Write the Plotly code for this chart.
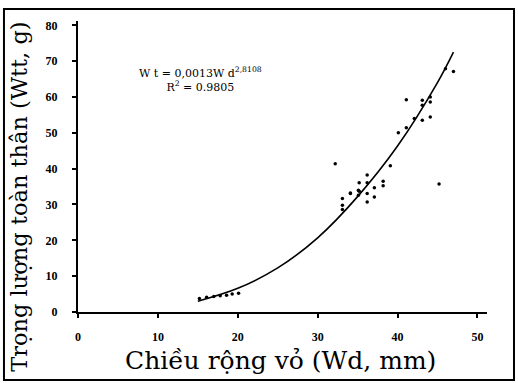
import plotly.graph_objects as go

# Observed data (shell width Wd, mm ; total weight Wtt, g)
wd = [15.2, 16.1, 17.0, 17.8, 18.6, 19.3, 20.1,
      32.2, 33.1, 33.1, 33.1, 34.1, 34.1, 35.1, 35.1, 35.2, 35.2, 36.2, 36.2, 36.2, 36.2,
      37.1, 37.1, 38.2, 38.2, 39.1, 40.1, 41.1, 41.1, 42.1, 43.1, 43.1, 43.1, 44.1, 44.1,
      44.1, 45.2, 46.0, 47.0]
wt = [3.8, 4.1, 4.3, 4.5, 4.7, 5.0, 5.2,
      41.4, 31.7, 29.8, 28.6, 33.2, 33.1, 34.0, 32.6, 36.1, 33.7, 38.2, 36.1, 33.1, 30.7,
      34.7, 32.1, 36.5, 35.2, 40.8, 50.0, 51.4, 59.2, 54.0, 59.1, 57.7, 53.5, 60.0, 58.6,
      54.4, 35.7, 67.9, 67.1]

# Power-law trend line as drawn on the chart
trend_x = [15, 20, 25, 30, 35, 40, 45, 47]
trend_y = [3.0, 6.6, 12.3, 20.7, 32.2, 46.3, 64.0, 72.5]

x_ticks = [0, 10, 20, 30, 40, 50]
y_ticks = [0, 10, 20, 30, 40, 50, 60, 70, 80]

x_title = "Chiều rộng vỏ (Wd, mm)"
y_title = "Trọng lượng toàn thân (Wtt, g)"

serif = "Liberation Serif"
title_font = "DejaVu Serif"

fig = go.Figure()
fig.add_trace(go.Scatter(x=trend_x, y=trend_y, mode="lines",
                         line=dict(color="black", width=1.6, shape="spline"),
                         showlegend=False))
fig.add_trace(go.Scatter(x=wd, y=wt, mode="markers",
                         marker=dict(color="black", size=3.5), showlegend=False))

fig.add_annotation(x=15.3, y=64.9, xref="x", yref="y", showarrow=False,
                   text="W t = 0,0013W d<sup>2,8108</sup><br>R<sup>2</sup> = 0.9805",
                   font=dict(family=title_font, size=11, color="black"), align="center")

# axis titles placed as annotations
fig.add_annotation(x=0.494, y=-0.168, xref="paper", yref="paper", showarrow=False,
                   text=x_title, xanchor="center", yanchor="middle",
                   font=dict(family=title_font, size=25, color="black"))
fig.add_annotation(x=-0.145, y=0.395, xref="paper", yref="paper", showarrow=False,
                   text=y_title, textangle=-90, xanchor="center", yanchor="middle",
                   font=dict(family=title_font, size=22.5, color="black"))

# outer frame
fig.add_shape(type="rect", xref="paper", yref="paper",
              x0=-0.181, x1=1.066, y0=-0.234, y1=1.041,
              line=dict(color="black", width=2))

fig.update_layout(
    width=518, height=383,
    margin=dict(l=78, r=31, t=21, b=71),
    plot_bgcolor="white", paper_bgcolor="white",
    font=dict(family=serif, color="black"),
    xaxis=dict(range=[0, 51.2], tickvals=x_ticks, ticks="outside", ticklen=4,
               tickwidth=1.5, tickcolor="black", showline=True, linecolor="black",
               linewidth=2, showgrid=False, zeroline=False, ticklabelstandoff=9,
               tickfont=dict(family=serif, size=12, color="black", weight="bold")),
    yaxis=dict(range=[0, 81.2], tickvals=y_ticks, ticks="outside", ticklen=4,
               tickwidth=1.5, tickcolor="black", showline=True, linecolor="black",
               linewidth=2, showgrid=False, zeroline=False, ticklabelstandoff=12,
               tickfont=dict(family=serif, size=12, color="black", weight="bold")),
)

fig.write_html("out.html", config={"displayModeBar": False},
               post_script="document.body.style.margin='0';")
